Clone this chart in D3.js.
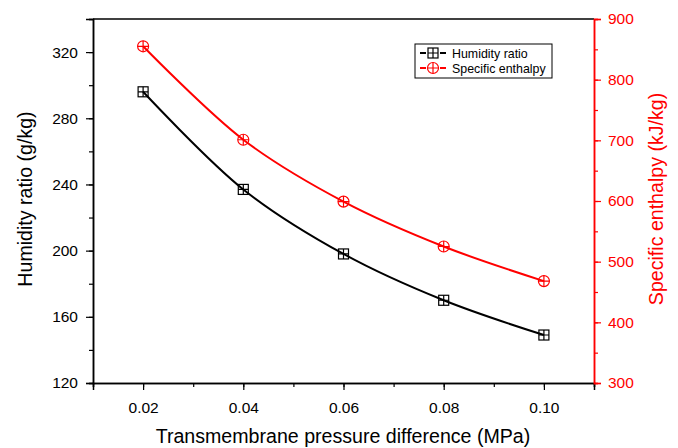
<!DOCTYPE html>
<html>
<head>
<meta charset="utf-8">
<script src="https://cdn.jsdelivr.net/npm/d3@7"></script>
<style>
  body { margin: 0; background: #fff; }
  text { font-family: "Liberation Sans", Arial, sans-serif; }
</style>
</head>
<body>
<svg id="chart" width="678" height="448"></svg>
<script>
// data
const pressure = [0.02, 0.04, 0.06, 0.08, 0.10];
const humidity = [296, 237, 198, 170, 149];
const enthalpy = [855, 701, 599, 525, 468];
const xTicks = [0.02, 0.04, 0.06, 0.08, 0.10];
const leftTicks = [120, 160, 200, 240, 280, 320];
const rightTicks = [300, 400, 500, 600, 700, 800, 900];

const svg = d3.select('#chart');
const pLeft = 93, pRight = 594, pTop = 19, pBottom = 383;
const red = '#ff0000';

let x = d3.scaleLinear().domain([0.01, 0.11]).range([pLeft, pRight]);
let yL = d3.scaleLinear().domain([120, 340]).range([pBottom, pTop]);
let yR = d3.scaleLinear().domain([300, 900]).range([pBottom, pTop]);

// frame top line
svg.append('line')
    .attr('x1', pLeft).attr('x2', pRight).attr('y1', pTop).attr('y2', pTop)
    .attr('stroke', '#000').attr('stroke-width', 1.5);

function styleAxis(g, color) {
  g.select('.domain').attr('stroke', color).attr('stroke-width', 1.5);
  g.selectAll('.tick line').attr('stroke', color).attr('stroke-width', 1.2);
  g.selectAll('.tick text').attr('fill', color)
      .style('font-size', '15.5px').style('font-family', '"Liberation Sans", Arial, sans-serif');
}

// minor ticks
let gxm = svg.append('g').attr('transform', `translate(0,${pBottom})`)
    .call(d3.axisBottom(x).tickValues(d3.range(0.01, 0.111, 0.01)).tickSize(4).tickFormat(''));
styleAxis(gxm, '#000');
let gx = svg.append('g').attr('transform', `translate(0,${pBottom})`)
    .call(d3.axisBottom(x).tickValues(xTicks).tickSize(7).tickPadding(12).tickFormat(d3.format('.2f')));
styleAxis(gx, '#000');

let gym = svg.append('g').attr('transform', `translate(${pLeft},0)`)
    .call(d3.axisLeft(yL).tickValues(d3.range(120, 341, 20)).tickSize(4).tickFormat(''));
styleAxis(gym, '#000');
let gy = svg.append('g').attr('transform', `translate(${pLeft},0)`)
    .call(d3.axisLeft(yL).tickValues(leftTicks).tickSize(7).tickPadding(8));
styleAxis(gy, '#000');

let grm = svg.append('g').attr('transform', `translate(${pRight},0)`)
    .call(d3.axisRight(yR).tickValues(d3.range(300, 901, 50)).tickSize(4).tickFormat(''));
styleAxis(grm, red);
let gr = svg.append('g').attr('transform', `translate(${pRight},0)`)
    .call(d3.axisRight(yR).tickValues(rightTicks).tickSize(7).tickPadding(7));
styleAxis(gr, red);

// axis titles
svg.append('text')
    .attr('x', 343).attr('y', 443)
    .attr('text-anchor', 'middle').style('font-size', '19.6px')
    .text('Transmembrane pressure difference (MPa)');
svg.append('text')
    .attr('transform', 'translate(32,199) rotate(-90)')
    .attr('text-anchor', 'middle').style('font-size', '19.6px')
    .text('Humidity ratio (g/kg)');
svg.append('text')
    .attr('transform', 'translate(663,199) rotate(-90)')
    .attr('text-anchor', 'middle').style('font-size', '19.6px').attr('fill', red)
    .text('Specific enthalpy (kJ/kg)');

// curves
let lineL = d3.line().x((d, i) => x(pressure[i])).y(d => yL(d)).curve(d3.curveCatmullRom);
let lineR = d3.line().x((d, i) => x(pressure[i])).y(d => yR(d)).curve(d3.curveCatmullRom);

svg.append('path').datum(humidity).attr('d', lineL)
    .attr('fill', 'none').attr('stroke', '#000').attr('stroke-width', 2);
svg.append('path').datum(enthalpy).attr('d', lineR)
    .attr('fill', 'none').attr('stroke', red).attr('stroke-width', 2);

function squareMark(g, cx, cy) {
  g.append('rect').attr('x', cx - 5).attr('y', cy - 5).attr('width', 10).attr('height', 10)
      .attr('fill', 'none').attr('stroke', '#000').attr('stroke-width', 1.2);
  g.append('path').attr('d', `M${cx - 5},${cy}H${cx + 5}M${cx},${cy - 5}V${cy + 5}`)
      .attr('stroke', '#000').attr('stroke-width', 1.2);
}
function circleMark(g, cx, cy) {
  g.append('circle').attr('cx', cx).attr('cy', cy).attr('r', 5.5)
      .attr('fill', 'none').attr('stroke', red).attr('stroke-width', 1.2);
  g.append('path').attr('d', `M${cx - 5.5},${cy}H${cx + 5.5}M${cx},${cy - 5.5}V${cy + 5.5}`)
      .attr('stroke', red).attr('stroke-width', 1.2);
}

let marks = svg.append('g');
humidity.forEach((d, i) => squareMark(marks, x(pressure[i]), yL(d)));
enthalpy.forEach((d, i) => circleMark(marks, x(pressure[i]), yR(d)));

// legend
let lg = svg.append('g');
lg.append('rect').attr('x', 415).attr('y', 44).attr('width', 137).attr('height', 34)
    .attr('fill', '#fff').attr('stroke', '#000').attr('stroke-width', 1);
lg.append('line').attr('x1', 420).attr('x2', 446).attr('y1', 53).attr('y2', 53)
    .attr('stroke', '#000').attr('stroke-width', 2).attr('stroke-dasharray', '6,14');
squareMark(lg, 433, 53);
lg.append('text').attr('x', 452).attr('y', 57.5).style('font-size', '12.4px').text('Humidity ratio');
lg.append('line').attr('x1', 420).attr('x2', 446).attr('y1', 68).attr('y2', 68)
    .attr('stroke', red).attr('stroke-width', 2).attr('stroke-dasharray', '6,14');
circleMark(lg, 433, 68);
lg.append('text').attr('x', 452).attr('y', 72.5).style('font-size', '12.4px').text('Specific enthalpy');
</script>
</body>
</html>
